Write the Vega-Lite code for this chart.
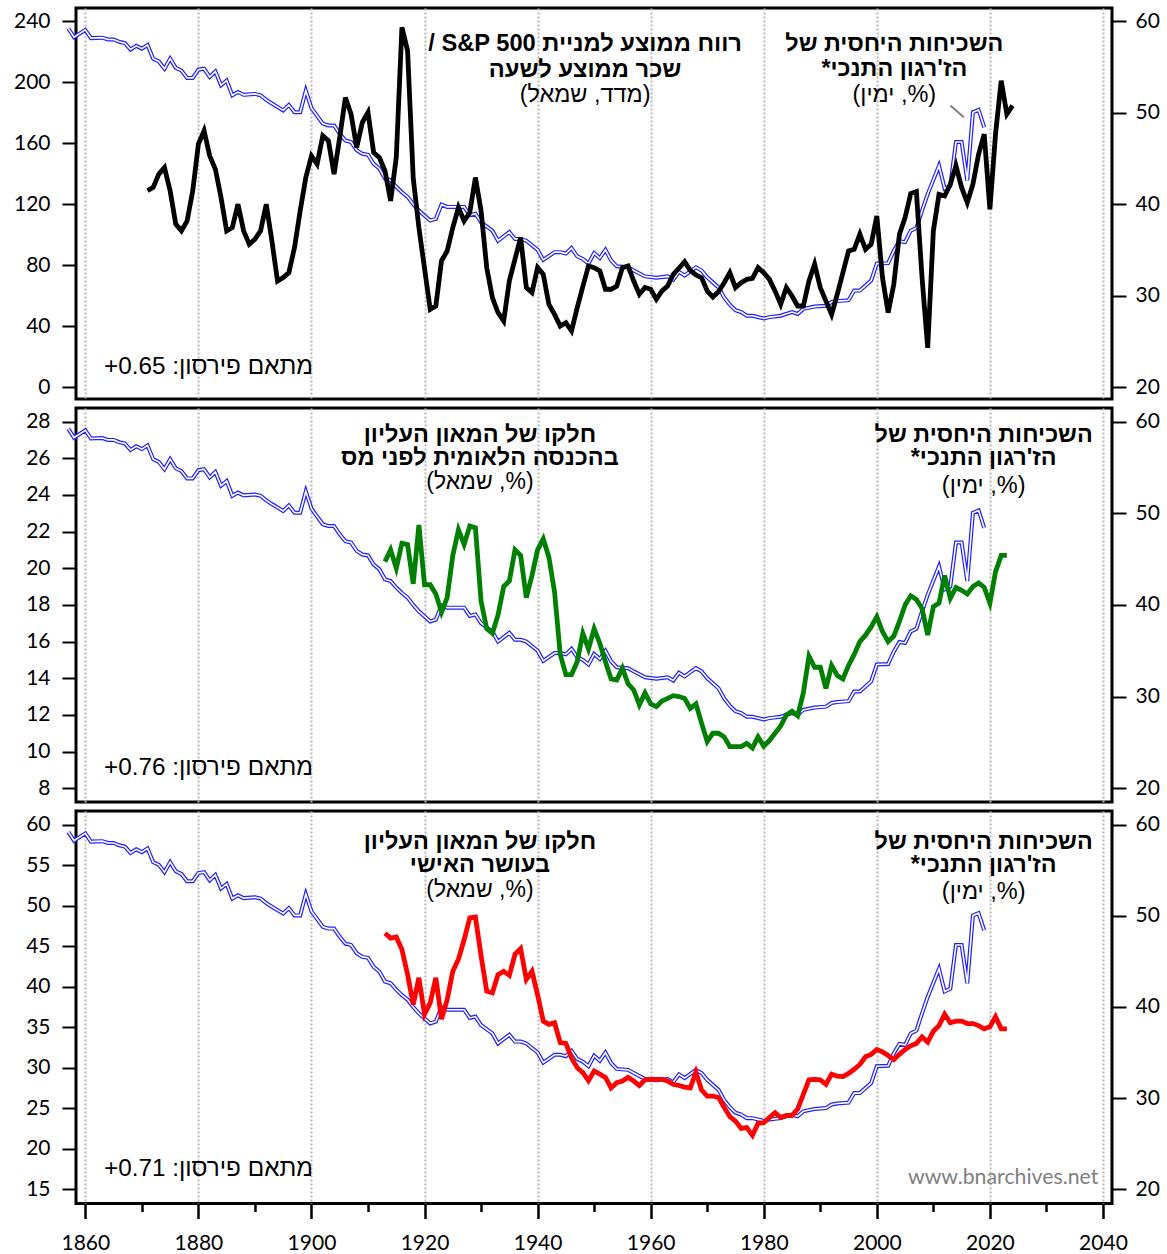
{
"$schema":"https://vega.github.io/schema/vega-lite/v6.json",
"background":"white",
"padding":{"left":10,"top":6,"right":5,"bottom":5},
"spacing":5,
"config":{"view":{"stroke":"black","strokeWidth":3},
"axis":{"labelFont":"Lato","labelFontSize":21,"labelColor":"black","tickColor":"black","tickWidth":2,"domain":false,"grid":false,"labelOverlap":false,"labelFlush":false},
"text":{"font":"Liberation Sans","color":"black"}},
"datasets":{
"blue":[{"year":1857,"v":59.2},{"year":1858,"v":58.25},{"year":1860,"v":59.05},{"year":1861,"v":58.15},{"year":1863,"v":58.2},{"year":1864,"v":58.0},{"year":1865,"v":58.0},{"year":1866,"v":57.75},{"year":1867,"v":57.6},{"year":1868,"v":56.9},{"year":1869,"v":57.3},{"year":1870,"v":57.0},{"year":1871,"v":57.4},{"year":1872,"v":55.9},{"year":1873,"v":55.6},{"year":1874,"v":54.8},{"year":1875,"v":55.9},{"year":1876,"v":54.9},{"year":1877,"v":54.6},{"year":1878,"v":53.8},{"year":1879,"v":53.8},{"year":1880,"v":54.7},{"year":1881,"v":54.8},{"year":1882,"v":53.9},{"year":1883,"v":54.5},{"year":1884,"v":53.0},{"year":1885,"v":53.5},{"year":1886,"v":51.9},{"year":1887,"v":52.25},{"year":1888,"v":51.95},{"year":1890,"v":52.05},{"year":1891,"v":51.9},{"year":1892,"v":51.4},{"year":1893,"v":51.0},{"year":1895,"v":50.25},{"year":1896,"v":50.85},{"year":1897,"v":50.05},{"year":1898,"v":50.05},{"year":1899,"v":52.4},{"year":1900,"v":50.5},{"year":1902,"v":48.8},{"year":1903,"v":48.6},{"year":1904,"v":48.6},{"year":1905,"v":47.7},{"year":1906,"v":46.95},{"year":1907,"v":46.8},{"year":1908,"v":45.9},{"year":1909,"v":45.5},{"year":1910,"v":45.4},{"year":1911,"v":44.4},{"year":1912,"v":43.9},{"year":1913,"v":42.8},{"year":1914,"v":42.6},{"year":1915,"v":41.9},{"year":1916,"v":41.3},{"year":1917,"v":40.8},{"year":1918,"v":40.0},{"year":1919,"v":39.3},{"year":1921,"v":38.2},{"year":1922,"v":38.4},{"year":1923,"v":39.95},{"year":1924,"v":39.7},{"year":1926,"v":39.7},{"year":1927,"v":39.7},{"year":1928,"v":38.8},{"year":1929,"v":38.95},{"year":1930,"v":38.0},{"year":1932,"v":37.1},{"year":1933,"v":36.0},{"year":1935,"v":36.95},{"year":1936,"v":36.2},{"year":1937,"v":36.2},{"year":1938,"v":36.0},{"year":1940,"v":35.0},{"year":1941,"v":33.9},{"year":1943,"v":34.75},{"year":1944,"v":34.75},{"year":1945,"v":34.6},{"year":1946,"v":35.2},{"year":1947,"v":34.3},{"year":1948,"v":34.0},{"year":1949,"v":33.5},{"year":1950,"v":34.65},{"year":1951,"v":34.1},{"year":1952,"v":35.0},{"year":1953,"v":33.85},{"year":1954,"v":33.2},{"year":1956,"v":33.1},{"year":1957,"v":32.75},{"year":1959,"v":32.1},{"year":1961,"v":31.95},{"year":1963,"v":32.1},{"year":1964,"v":31.75},{"year":1965,"v":32.6},{"year":1966,"v":32.2},{"year":1968,"v":33.1},{"year":1969,"v":32.75},{"year":1970,"v":32.0},{"year":1972,"v":30.9},{"year":1973,"v":29.8},{"year":1974,"v":29.0},{"year":1975,"v":28.4},{"year":1976,"v":28.2},{"year":1977,"v":27.8},{"year":1978,"v":27.8},{"year":1980,"v":27.5},{"year":1981,"v":27.65},{"year":1983,"v":27.8},{"year":1985,"v":28.2},{"year":1986,"v":28.0},{"year":1987,"v":28.55},{"year":1989,"v":28.8},{"year":1991,"v":28.9},{"year":1992,"v":29.3},{"year":1993,"v":29.4},{"year":1995,"v":29.5},{"year":1996,"v":30.55},{"year":1997,"v":30.55},{"year":1999,"v":31.65},{"year":2000,"v":33.5},{"year":2002,"v":33.55},{"year":2003,"v":34.9},{"year":2004,"v":35.95},{"year":2005,"v":35.85},{"year":2006,"v":37.1},{"year":2007,"v":37.4},{"year":2008,"v":39.3},{"year":2009,"v":41.1},{"year":2011,"v":44.2},{"year":2012,"v":41.7},{"year":2013,"v":42.0},{"year":2014,"v":46.8},{"year":2015,"v":46.8},{"year":2016,"v":42.6},{"year":2017,"v":50.05},{"year":2018,"v":50.3},{"year":2019,"v":48.4}],
"sp":[{"year":1871,"v":128.8},{"year":1872,"v":131},{"year":1873,"v":139.7},{"year":1874,"v":144},{"year":1875,"v":128.8},{"year":1876,"v":106.9},{"year":1877,"v":102.5},{"year":1878,"v":109},{"year":1879,"v":128.8},{"year":1880,"v":159.4},{"year":1881,"v":168.2},{"year":1882,"v":151.7},{"year":1883,"v":143},{"year":1884,"v":124.4},{"year":1885,"v":102.5},{"year":1886,"v":104.7},{"year":1887,"v":120},{"year":1888,"v":102.5},{"year":1889,"v":93.7},{"year":1890,"v":97},{"year":1891,"v":102.5},{"year":1892,"v":120},{"year":1893,"v":95.9},{"year":1894,"v":69.6},{"year":1895,"v":71.8},{"year":1896,"v":75.1},{"year":1897,"v":91.5},{"year":1898,"v":115.6},{"year":1899,"v":137.5},{"year":1900,"v":151.7},{"year":1901,"v":146.3},{"year":1902,"v":164.9},{"year":1903,"v":161.6},{"year":1904,"v":139.7},{"year":1905,"v":163.8},{"year":1906,"v":190},{"year":1907,"v":179.1},{"year":1908,"v":157.2},{"year":1909,"v":173.6},{"year":1910,"v":180.2},{"year":1911,"v":153.9},{"year":1912,"v":150.6},{"year":1913,"v":141.9},{"year":1914,"v":122.2},{"year":1915,"v":150.6},{"year":1916,"v":236},{"year":1917,"v":220.7},{"year":1918,"v":137},{"year":1919,"v":104.7},{"year":1921,"v":51.0},{"year":1922,"v":53.2},{"year":1923,"v":82.8},{"year":1924,"v":89.3},{"year":1925,"v":104.7},{"year":1926,"v":117.8},{"year":1927,"v":109},{"year":1928,"v":114.5},{"year":1929,"v":137.5},{"year":1930,"v":115.6},{"year":1931,"v":78.4},{"year":1932,"v":58.7},{"year":1933,"v":48.8},{"year":1934,"v":43.4},{"year":1935,"v":69.6},{"year":1936,"v":84},{"year":1937,"v":98.1},{"year":1938,"v":65.3},{"year":1939,"v":62.0},{"year":1940,"v":78.4},{"year":1941,"v":74.0},{"year":1942,"v":54.3},{"year":1943,"v":47.7},{"year":1944,"v":40.1},{"year":1945,"v":42.3},{"year":1946,"v":36.8},{"year":1947,"v":52},{"year":1948,"v":66},{"year":1949,"v":79.5},{"year":1950,"v":78.4},{"year":1951,"v":76.2},{"year":1952,"v":64.2},{"year":1953,"v":64.2},{"year":1954,"v":66.3},{"year":1955,"v":78.4},{"year":1956,"v":79.5},{"year":1957,"v":69.6},{"year":1958,"v":60.9},{"year":1959,"v":65.3},{"year":1960,"v":64.2},{"year":1961,"v":57.6},{"year":1962,"v":63.1},{"year":1963,"v":66.3},{"year":1964,"v":74.0},{"year":1965,"v":78},{"year":1966,"v":82.3},{"year":1967,"v":76.6},{"year":1968,"v":73.6},{"year":1969,"v":71.8},{"year":1970,"v":63.1},{"year":1971,"v":59.1},{"year":1972,"v":62.6},{"year":1973,"v":68.5},{"year":1974,"v":75.1},{"year":1975,"v":65.3},{"year":1976,"v":68.5},{"year":1977,"v":70.7},{"year":1978,"v":71.4},{"year":1979,"v":78.4},{"year":1980,"v":75.1},{"year":1981,"v":70.7},{"year":1982,"v":63.1},{"year":1983,"v":54.3},{"year":1984,"v":65.3},{"year":1985,"v":59.8},{"year":1986,"v":53.2},{"year":1987,"v":53.2},{"year":1988,"v":69.6},{"year":1989,"v":80.6},{"year":1990,"v":65.3},{"year":1992,"v":47.7},{"year":1993,"v":60.9},{"year":1995,"v":89.3},{"year":1996,"v":90.4},{"year":1997,"v":100.3},{"year":1998,"v":90.4},{"year":1999,"v":93.7},{"year":2000,"v":112.3},{"year":2001,"v":71.8},{"year":2002,"v":48.8},{"year":2003,"v":67.4},{"year":2004,"v":100.3},{"year":2005,"v":111.2},{"year":2006,"v":127},{"year":2007,"v":128.3},{"year":2008,"v":71.8},{"year":2009,"v":25.8},{"year":2010,"v":102.5},{"year":2011,"v":126.5},{"year":2012,"v":125.4},{"year":2013,"v":133.1},{"year":2014,"v":145.2},{"year":2015,"v":131},{"year":2016,"v":121.1},{"year":2017,"v":133.1},{"year":2018,"v":152.8},{"year":2019,"v":166},{"year":2020,"v":116.7},{"year":2021,"v":166},{"year":2022,"v":201},{"year":2023,"v":179.1},{"year":2024,"v":184.6}],
"inc":[{"year":1913,"v":20.36},{"year":1914,"v":21.0},{"year":1915,"v":20.0},{"year":1916,"v":21.36},{"year":1917,"v":21.3},{"year":1918,"v":19.15},{"year":1919,"v":22.36},{"year":1920,"v":19.1},{"year":1921,"v":19.1},{"year":1922,"v":18.6},{"year":1923,"v":17.6},{"year":1924,"v":18.4},{"year":1925,"v":20.7},{"year":1926,"v":22.1},{"year":1927,"v":21.3},{"year":1928,"v":22.3},{"year":1929,"v":22.2},{"year":1930,"v":18.2},{"year":1931,"v":16.7},{"year":1932,"v":16.45},{"year":1933,"v":17.45},{"year":1934,"v":19.0},{"year":1935,"v":19.3},{"year":1936,"v":21.0},{"year":1937,"v":20.7},{"year":1938,"v":18.4},{"year":1939,"v":19.6},{"year":1940,"v":21.0},{"year":1941,"v":21.6},{"year":1942,"v":20.6},{"year":1943,"v":18.7},{"year":1944,"v":15.3},{"year":1945,"v":14.2},{"year":1946,"v":14.2},{"year":1947,"v":14.9},{"year":1948,"v":16.45},{"year":1949,"v":15.6},{"year":1950,"v":16.7},{"year":1951,"v":15.9},{"year":1952,"v":14.9},{"year":1953,"v":13.96},{"year":1954,"v":13.9},{"year":1955,"v":14.55},{"year":1956,"v":13.7},{"year":1957,"v":13.36},{"year":1958,"v":12.55},{"year":1959,"v":13.2},{"year":1960,"v":12.6},{"year":1961,"v":12.45},{"year":1962,"v":12.76},{"year":1963,"v":12.9},{"year":1964,"v":13.05},{"year":1965,"v":13.0},{"year":1966,"v":12.9},{"year":1967,"v":12.36},{"year":1968,"v":12.6},{"year":1969,"v":11.55},{"year":1970,"v":10.55},{"year":1971,"v":11.0},{"year":1972,"v":11.0},{"year":1973,"v":10.8},{"year":1974,"v":10.27},{"year":1975,"v":10.27},{"year":1976,"v":10.27},{"year":1977,"v":10.45},{"year":1978,"v":10.2},{"year":1979,"v":10.8},{"year":1980,"v":10.3},{"year":1981,"v":10.6},{"year":1982,"v":11.0},{"year":1983,"v":11.4},{"year":1984,"v":12.0},{"year":1985,"v":12.2},{"year":1986,"v":11.95},{"year":1987,"v":13.2},{"year":1988,"v":15.2},{"year":1989,"v":14.6},{"year":1990,"v":14.6},{"year":1991,"v":13.45},{"year":1992,"v":14.7},{"year":1993,"v":14.15},{"year":1994,"v":13.96},{"year":1995,"v":14.7},{"year":1996,"v":15.3},{"year":1997,"v":16.0},{"year":1998,"v":16.35},{"year":1999,"v":16.8},{"year":2000,"v":17.36},{"year":2001,"v":16.55},{"year":2002,"v":16.0},{"year":2003,"v":16.3},{"year":2004,"v":17.1},{"year":2005,"v":18.0},{"year":2006,"v":18.5},{"year":2007,"v":18.3},{"year":2008,"v":17.8},{"year":2009,"v":16.36},{"year":2010,"v":17.9},{"year":2011,"v":18.1},{"year":2012,"v":19.6},{"year":2013,"v":18.36},{"year":2014,"v":18.95},{"year":2015,"v":18.8},{"year":2016,"v":18.6},{"year":2017,"v":19.0},{"year":2018,"v":19.2},{"year":2019,"v":18.95},{"year":2020,"v":18.1},{"year":2021,"v":19.8},{"year":2022,"v":20.7},{"year":2023,"v":20.7}],
"wealth":[{"year":1913,"v":46.6},{"year":1914,"v":46.0},{"year":1915,"v":46.15},{"year":1916,"v":44.6},{"year":1917,"v":41.5},{"year":1918,"v":37.8},{"year":1919,"v":41.1},{"year":1920,"v":36.6},{"year":1921,"v":38.0},{"year":1922,"v":41.1},{"year":1923,"v":36.0},{"year":1924,"v":38.4},{"year":1925,"v":41.9},{"year":1926,"v":43.4},{"year":1927,"v":45.8},{"year":1928,"v":48.5},{"year":1929,"v":48.6},{"year":1930,"v":43.8},{"year":1931,"v":39.45},{"year":1932,"v":39.25},{"year":1933,"v":41.5},{"year":1934,"v":41.9},{"year":1935,"v":41.4},{"year":1936,"v":44.0},{"year":1937,"v":44.7},{"year":1938,"v":40.9},{"year":1939,"v":41.9},{"year":1940,"v":39.0},{"year":1941,"v":35.75},{"year":1942,"v":35.35},{"year":1943,"v":35.55},{"year":1944,"v":33.1},{"year":1945,"v":33.0},{"year":1946,"v":31.2},{"year":1947,"v":30.0},{"year":1948,"v":29.4},{"year":1949,"v":28.4},{"year":1950,"v":29.6},{"year":1951,"v":29.2},{"year":1952,"v":28.8},{"year":1953,"v":27.5},{"year":1954,"v":28.15},{"year":1955,"v":28.35},{"year":1956,"v":28.8},{"year":1957,"v":28.35},{"year":1958,"v":27.8},{"year":1959,"v":28.5},{"year":1960,"v":28.55},{"year":1961,"v":28.55},{"year":1962,"v":28.55},{"year":1963,"v":28.35},{"year":1964,"v":27.95},{"year":1965,"v":27.8},{"year":1966,"v":27.6},{"year":1967,"v":27.5},{"year":1968,"v":29.45},{"year":1969,"v":27.25},{"year":1970,"v":26.5},{"year":1971,"v":26.5},{"year":1972,"v":26.3},{"year":1973,"v":25.1},{"year":1974,"v":23.95},{"year":1975,"v":23.4},{"year":1976,"v":22.5},{"year":1977,"v":22.6},{"year":1978,"v":21.65},{"year":1979,"v":23.15},{"year":1980,"v":23.2},{"year":1981,"v":23.85},{"year":1982,"v":24.45},{"year":1983,"v":23.85},{"year":1984,"v":24.1},{"year":1985,"v":24.1},{"year":1986,"v":24.9},{"year":1987,"v":26.7},{"year":1988,"v":28.5},{"year":1989,"v":28.55},{"year":1990,"v":28.5},{"year":1991,"v":27.95},{"year":1992,"v":29.2},{"year":1993,"v":28.95},{"year":1994,"v":28.9},{"year":1995,"v":29.3},{"year":1996,"v":29.8},{"year":1997,"v":30.4},{"year":1998,"v":31.35},{"year":1999,"v":31.65},{"year":2000,"v":32.25},{"year":2001,"v":31.95},{"year":2002,"v":31.5},{"year":2003,"v":31.0},{"year":2004,"v":31.65},{"year":2005,"v":32.25},{"year":2006,"v":32.7},{"year":2007,"v":33.0},{"year":2008,"v":33.8},{"year":2009,"v":33.15},{"year":2010,"v":34.5},{"year":2011,"v":35.2},{"year":2012,"v":36.6},{"year":2013,"v":35.55},{"year":2014,"v":35.75},{"year":2015,"v":35.75},{"year":2016,"v":35.45},{"year":2017,"v":35.45},{"year":2018,"v":35.2},{"year":2019,"v":34.8},{"year":2020,"v":35.05},{"year":2021,"v":36.3},{"year":2022,"v":34.8},{"year":2023,"v":34.8}]
},
"vconcat":[
{"width":1036,"height":391,"data":{"values":[{}]},"resolve":{"scale":{"y":"independent"},"axis":{"x":"independent","y":"independent"}},
"layer":[
{"data":{"name":"blue"},"mark":{"type":"line","color":"#1f1fff","strokeWidth":4,"clip":false},
"encoding":{"x":{"field":"year","type":"quantitative","scale":{"domain":[1858.35,2041.6],"nice":false,"zero":false},"axis":{"orient":"bottom","title":null,"values":[1860,1880,1900,1920,1940,1960,1980,2000,2020,2040],"grid":true,"gridColor":"#b8b8b8","gridDash":[2,2],"gridWidth":2,"ticks":false,"labels":false,"domain":false}},
"y":{"field":"v","type":"quantitative","scale":{"domain":[18.7,61.44],"nice":false,"zero":false},"axis":{"orient":"right","title":null,"values":[20,30,40,50,60],"tickSize":14,"labelPadding":9}}}},
{"data":{"name":"blue"},"mark":{"type":"line","color":"white","strokeWidth":1.6,"clip":false},
"encoding":{"x":{"field":"year","type":"quantitative","scale":{"domain":[1858.35,2041.6],"nice":false,"zero":false},"axis":null},
"y":{"field":"v","type":"quantitative","scale":{"domain":[18.7,61.44],"nice":false,"zero":false},"axis":null}}},
{"data":{"name":"sp"},"mark":{"type":"line","color":"black","strokeWidth":4.8},
"encoding":{"x":{"field":"year","type":"quantitative","scale":{"domain":[1858.35,2041.6],"nice":false,"zero":false},"axis":null},
"y":{"field":"v","type":"quantitative","scale":{"domain":[-7.8,248.7],"nice":false,"zero":false},"axis":{"orient":"left","title":null,"values":[0,40,80,120,160,200,240],"tickSize":14,"labelPadding":12,"minExtent":64}}}},
{"mark":{"type":"rule","color":"#808080","strokeWidth":2},
"encoding":{"x":{"datum":2013.0,"type":"quantitative","scale":{"domain":[1858.35,2041.6],"nice":false,"zero":false},"axis":null},"x2":{"datum":2015.4},
"y":{"datum":184.7,"type":"quantitative","scale":{"domain":[-7.8,248.7],"nice":false,"zero":false},"axis":null},"y2":{"datum":177.1}}},
{"mark":{"type":"text","text":"‫רווח ממוצע למניית S&P 500 /‬","fontWeight":"bold","fontSize":23.7,"align":"center","baseline":"middle"},
"encoding":{"x":{"datum":1948.4,"type":"quantitative","scale":{"domain":[1858.35,2041.6],"nice":false,"zero":false},"axis":null},"y":{"datum":225.4,"type":"quantitative","scale":{"domain":[-7.8,248.7],"nice":false,"zero":false},"axis":null}}},
{"mark":{"type":"text","text":"‫שכר ממוצע לשעה‬","fontWeight":"bold","fontSize":23.7,"align":"center","baseline":"middle"},
"encoding":{"x":{"datum":1948.4,"type":"quantitative","scale":{"domain":[1858.35,2041.6],"nice":false,"zero":false},"axis":null},"y":{"datum":208.3,"type":"quantitative","scale":{"domain":[-7.8,248.7],"nice":false,"zero":false},"axis":null}}},
{"mark":{"type":"text","text":"‫(מדד, שמאל)‬","fontSize":23.5,"align":"center","baseline":"middle"},
"encoding":{"x":{"datum":1948.4,"type":"quantitative","scale":{"domain":[1858.35,2041.6],"nice":false,"zero":false},"axis":null},"y":{"datum":191.3,"type":"quantitative","scale":{"domain":[-7.8,248.7],"nice":false,"zero":false},"axis":null}}},
{"mark":{"type":"text","text":"‫השכיחות היחסית של‬","fontWeight":"bold","fontSize":23.4,"align":"center","baseline":"middle"},
"encoding":{"x":{"datum":2003.1,"type":"quantitative","scale":{"domain":[1858.35,2041.6],"nice":false,"zero":false},"axis":null},"y":{"datum":225.4,"type":"quantitative","scale":{"domain":[-7.8,248.7],"nice":false,"zero":false},"axis":null}}},
{"mark":{"type":"text","text":"‫הז'רגון התנכי*‬","fontWeight":"bold","fontSize":23.4,"align":"center","baseline":"middle"},
"encoding":{"x":{"datum":2003.1,"type":"quantitative","scale":{"domain":[1858.35,2041.6],"nice":false,"zero":false},"axis":null},"y":{"datum":209.0,"type":"quantitative","scale":{"domain":[-7.8,248.7],"nice":false,"zero":false},"axis":null}}},
{"mark":{"type":"text","text":"‫(%, ימין)‬","fontSize":23.5,"align":"center","baseline":"middle"},
"encoding":{"x":{"datum":2003.1,"type":"quantitative","scale":{"domain":[1858.35,2041.6],"nice":false,"zero":false},"axis":null},"y":{"datum":191.3,"type":"quantitative","scale":{"domain":[-7.8,248.7],"nice":false,"zero":false},"axis":null}}},
{"mark":{"type":"text","text":"‫מתאם פירסון: 0.65+‬","fontSize":24.3,"align":"left","baseline":"middle"},
"encoding":{"x":{"datum":1863.3,"type":"quantitative","scale":{"domain":[1858.35,2041.6],"nice":false,"zero":false},"axis":null},"y":{"datum":13.5,"type":"quantitative","scale":{"domain":[-7.8,248.7],"nice":false,"zero":false},"axis":null}}}
]},
{"width":1036,"height":394,"data":{"values":[{}]},"resolve":{"scale":{"y":"independent"},"axis":{"x":"independent","y":"independent"}},
"layer":[
{"data":{"name":"blue"},"mark":{"type":"line","color":"#1f1fff","strokeWidth":4,"clip":false},
"encoding":{"x":{"field":"year","type":"quantitative","scale":{"domain":[1858.35,2041.6],"nice":false,"zero":false},"axis":{"orient":"bottom","title":null,"values":[1860,1880,1900,1920,1940,1960,1980,2000,2020,2040],"grid":true,"gridColor":"#b8b8b8","gridDash":[2,2],"gridWidth":2,"ticks":false,"labels":false,"domain":false}},
"y":{"field":"v","type":"quantitative","scale":{"domain":[18.5,61.48],"nice":false,"zero":false},"axis":{"orient":"right","title":null,"values":[20,30,40,50,60],"tickSize":14,"labelPadding":9}}}},
{"data":{"name":"blue"},"mark":{"type":"line","color":"white","strokeWidth":1.6,"clip":false},
"encoding":{"x":{"field":"year","type":"quantitative","scale":{"domain":[1858.35,2041.6],"nice":false,"zero":false},"axis":null},
"y":{"field":"v","type":"quantitative","scale":{"domain":[18.5,61.48],"nice":false,"zero":false},"axis":null}}},
{"data":{"name":"inc"},"mark":{"type":"line","color":"#008000","strokeWidth":4.8},
"encoding":{"x":{"field":"year","type":"quantitative","scale":{"domain":[1858.35,2041.6],"nice":false,"zero":false},"axis":null},
"y":{"field":"v","type":"quantitative","scale":{"domain":[7.25,28.74],"nice":false,"zero":false},"axis":{"orient":"left","title":null,"values":[8,10,12,14,16,18,20,22,24,26,28],"tickSize":14,"labelPadding":12,"minExtent":64}}}},
{"mark":{"type":"text","text":"‫חלקו של המאון העליון‬","fontWeight":"bold","fontSize":23.5,"align":"center","baseline":"middle"},
"encoding":{"x":{"datum":1929.8,"type":"quantitative","scale":{"domain":[1858.35,2041.6],"nice":false,"zero":false},"axis":null},"y":{"datum":27.29,"type":"quantitative","scale":{"domain":[7.25,28.74],"nice":false,"zero":false},"axis":null}}},
{"mark":{"type":"text","text":"‫בהכנסה הלאומית לפני מס‬","fontWeight":"bold","fontSize":23.5,"align":"center","baseline":"middle"},
"encoding":{"x":{"datum":1929.8,"type":"quantitative","scale":{"domain":[1858.35,2041.6],"nice":false,"zero":false},"axis":null},"y":{"datum":25.99,"type":"quantitative","scale":{"domain":[7.25,28.74],"nice":false,"zero":false},"axis":null}}},
{"mark":{"type":"text","text":"‫(%, שמאל)‬","fontSize":23,"align":"center","baseline":"middle"},
"encoding":{"x":{"datum":1929.8,"type":"quantitative","scale":{"domain":[1858.35,2041.6],"nice":false,"zero":false},"axis":null},"y":{"datum":24.68,"type":"quantitative","scale":{"domain":[7.25,28.74],"nice":false,"zero":false},"axis":null}}},
{"mark":{"type":"text","text":"‫השכיחות היחסית של‬","fontWeight":"bold","fontSize":23.4,"align":"center","baseline":"middle"},
"encoding":{"x":{"datum":2018.9,"type":"quantitative","scale":{"domain":[1858.35,2041.6],"nice":false,"zero":false},"axis":null},"y":{"datum":27.29,"type":"quantitative","scale":{"domain":[7.25,28.74],"nice":false,"zero":false},"axis":null}}},
{"mark":{"type":"text","text":"‫הז'רגון התנכי*‬","fontWeight":"bold","fontSize":23.4,"align":"center","baseline":"middle"},
"encoding":{"x":{"datum":2018.9,"type":"quantitative","scale":{"domain":[1858.35,2041.6],"nice":false,"zero":false},"axis":null},"y":{"datum":25.99,"type":"quantitative","scale":{"domain":[7.25,28.74],"nice":false,"zero":false},"axis":null}}},
{"mark":{"type":"text","text":"‫(%, ימין)‬","fontSize":23.5,"align":"center","baseline":"middle"},
"encoding":{"x":{"datum":2018.9,"type":"quantitative","scale":{"domain":[1858.35,2041.6],"nice":false,"zero":false},"axis":null},"y":{"datum":24.46,"type":"quantitative","scale":{"domain":[7.25,28.74],"nice":false,"zero":false},"axis":null}}},
{"mark":{"type":"text","text":"‫מתאם פירסון: 0.76+‬","fontSize":24.3,"align":"left","baseline":"middle"},
"encoding":{"x":{"datum":1863.3,"type":"quantitative","scale":{"domain":[1858.35,2041.6],"nice":false,"zero":false},"axis":null},"y":{"datum":9.08,"type":"quantitative","scale":{"domain":[7.25,28.74],"nice":false,"zero":false},"axis":null}}}
]},
{"width":1036,"height":392.5,"data":{"values":[{}]},"resolve":{"scale":{"y":"independent"},"axis":{"x":"independent","y":"independent"}},
"layer":[
{"data":{"name":"blue"},"mark":{"type":"line","color":"#1f1fff","strokeWidth":4,"clip":false},
"encoding":{"x":{"field":"year","type":"quantitative","scale":{"domain":[1858.35,2041.6],"nice":false,"zero":false},"axis":{"orient":"bottom","title":null,"values":[1860,1870,1880,1890,1900,1910,1920,1930,1940,1950,1960,1970,1980,1990,2000,2010,2020,2030,2040],"format":"d","labelExpr":"datum.value % 20 === 0 ? datum.label : ''","grid":true,"gridColor":"#b8b8b8","gridDash":[2,2],"gridWidth":2,"gridOpacity":{"condition":{"test":"datum.value % 20 === 0","value":1},"value":0},"tickSize":{"condition":{"test":"datum.value % 20 === 0","value":15},"value":8},"tickWidth":2.5,"labelPadding":14,"domain":false}},
"y":{"field":"v","type":"quantitative","scale":{"domain":[18.43,61.51],"nice":false,"zero":false},"axis":{"orient":"right","title":null,"values":[20,30,40,50,60],"tickSize":14,"labelPadding":9}}}},
{"data":{"name":"blue"},"mark":{"type":"line","color":"white","strokeWidth":1.6,"clip":false},
"encoding":{"x":{"field":"year","type":"quantitative","scale":{"domain":[1858.35,2041.6],"nice":false,"zero":false},"axis":null},
"y":{"field":"v","type":"quantitative","scale":{"domain":[18.43,61.51],"nice":false,"zero":false},"axis":null}}},
{"data":{"name":"wealth"},"mark":{"type":"line","color":"#ff0000","strokeWidth":4.8},
"encoding":{"x":{"field":"year","type":"quantitative","scale":{"domain":[1858.35,2041.6],"nice":false,"zero":false},"axis":null},
"y":{"field":"v","type":"quantitative","scale":{"domain":[13.23,61.7],"nice":false,"zero":false},"axis":{"orient":"left","title":null,"values":[15,20,25,30,35,40,45,50,55,60],"tickSize":14,"labelPadding":12,"minExtent":64}}}},
{"mark":{"type":"text","text":"‫חלקו של המאון העליון‬","fontWeight":"bold","fontSize":23.5,"align":"center","baseline":"middle"},
"encoding":{"x":{"datum":1929.8,"type":"quantitative","scale":{"domain":[1858.35,2041.6],"nice":false,"zero":false},"axis":null},"y":{"datum":57.9,"type":"quantitative","scale":{"domain":[13.23,61.7],"nice":false,"zero":false},"axis":null}}},
{"mark":{"type":"text","text":"‫בעושר האישי‬","fontWeight":"bold","fontSize":23.5,"align":"center","baseline":"middle"},
"encoding":{"x":{"datum":1929.8,"type":"quantitative","scale":{"domain":[1858.35,2041.6],"nice":false,"zero":false},"axis":null},"y":{"datum":54.97,"type":"quantitative","scale":{"domain":[13.23,61.7],"nice":false,"zero":false},"axis":null}}},
{"mark":{"type":"text","text":"‫(%, שמאל)‬","fontSize":23,"align":"center","baseline":"middle"},
"encoding":{"x":{"datum":1929.8,"type":"quantitative","scale":{"domain":[1858.35,2041.6],"nice":false,"zero":false},"axis":null},"y":{"datum":51.95,"type":"quantitative","scale":{"domain":[13.23,61.7],"nice":false,"zero":false},"axis":null}}},
{"mark":{"type":"text","text":"‫השכיחות היחסית של‬","fontWeight":"bold","fontSize":23.4,"align":"center","baseline":"middle"},
"encoding":{"x":{"datum":2018.9,"type":"quantitative","scale":{"domain":[1858.35,2041.6],"nice":false,"zero":false},"axis":null},"y":{"datum":57.9,"type":"quantitative","scale":{"domain":[13.23,61.7],"nice":false,"zero":false},"axis":null}}},
{"mark":{"type":"text","text":"‫הז'רגון התנכי*‬","fontWeight":"bold","fontSize":23.4,"align":"center","baseline":"middle"},
"encoding":{"x":{"datum":2018.9,"type":"quantitative","scale":{"domain":[1858.35,2041.6],"nice":false,"zero":false},"axis":null},"y":{"datum":54.97,"type":"quantitative","scale":{"domain":[13.23,61.7],"nice":false,"zero":false},"axis":null}}},
{"mark":{"type":"text","text":"‫(%, ימין)‬","fontSize":23.5,"align":"center","baseline":"middle"},
"encoding":{"x":{"datum":2018.9,"type":"quantitative","scale":{"domain":[1858.35,2041.6],"nice":false,"zero":false},"axis":null},"y":{"datum":51.65,"type":"quantitative","scale":{"domain":[13.23,61.7],"nice":false,"zero":false},"axis":null}}},
{"mark":{"type":"text","text":"‫מתאם פירסון: 0.71+‬","fontSize":24.3,"align":"left","baseline":"middle"},
"encoding":{"x":{"datum":1863.3,"type":"quantitative","scale":{"domain":[1858.35,2041.6],"nice":false,"zero":false},"axis":null},"y":{"datum":17.43,"type":"quantitative","scale":{"domain":[13.23,61.7],"nice":false,"zero":false},"axis":null}}},
{"mark":{"type":"text","text":"www.bnarchives.net","font":"Lato","fontSize":21.3,"color":"#808080","align":"right","baseline":"middle"},
"encoding":{"x":{"datum":2039.2,"type":"quantitative","scale":{"domain":[1858.35,2041.6],"nice":false,"zero":false},"axis":null},"y":{"datum":16.44,"type":"quantitative","scale":{"domain":[13.23,61.7],"nice":false,"zero":false},"axis":null}}}
]}
]
}
